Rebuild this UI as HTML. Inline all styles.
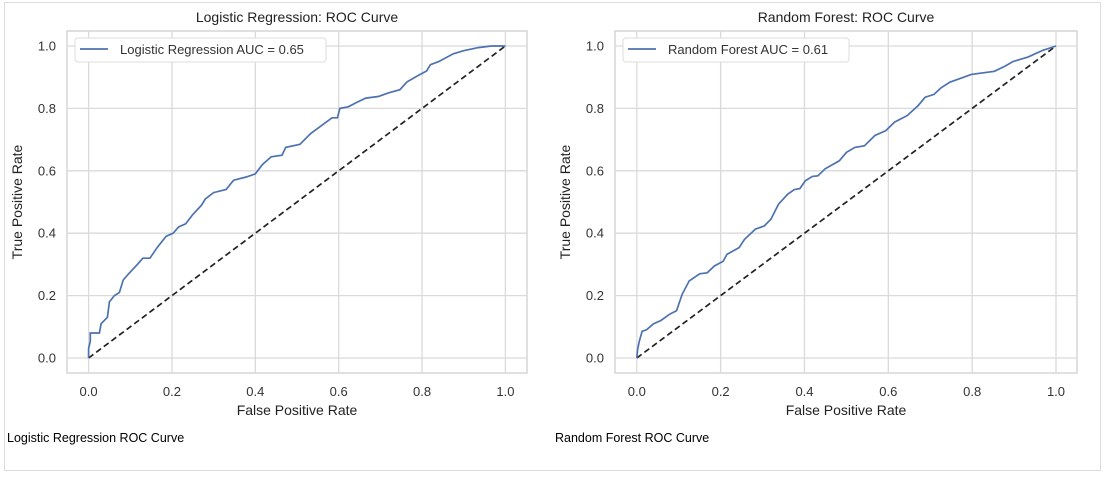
<!DOCTYPE html>
<html><head><meta charset="utf-8">
<style>
body{margin:0;background:#fff;width:1107px;height:473px;overflow:hidden;font-family:"Liberation Sans",Arial,sans-serif}
svg text{font-family:"Liberation Sans",Arial,sans-serif}
</style></head>
<body>
<svg id="fig" width="1107" height="473" xmlns="http://www.w3.org/2000/svg">
<rect x="4.5" y="2.5" width="1096" height="468" fill="none" stroke="#dcdcdc"/>
<text x="7" y="442" font-size="12.5" fill="#000">Logistic Regression ROC Curve</text>
<text x="555" y="442" font-size="12.5" fill="#000">Random Forest ROC Curve</text>
</svg>
<script>
const ticks=[0,0.2,0.4,0.6,0.8,1.0];
const tickLabels=["0.0","0.2","0.4","0.6","0.8","1.0"];
const lrFpr=[0,0,0.004,0.004,0.026,0.03,0.045,0.05,0.062,0.074,0.083,0.096,0.117,0.13,0.147,0.165,0.186,0.203,0.216,0.233,0.25,0.271,0.28,0.3,0.33,0.348,0.378,0.4,0.417,0.438,0.464,0.473,0.507,0.533,0.554,0.584,0.597,0.603,0.623,0.644,0.665,0.695,0.72,0.747,0.764,0.79,0.811,0.82,0.84,0.875,0.9,0.935,0.966,1];
const lrTpr=[0,0.03,0.054,0.08,0.08,0.11,0.13,0.18,0.2,0.21,0.25,0.27,0.3,0.32,0.32,0.355,0.39,0.40,0.42,0.43,0.46,0.49,0.51,0.53,0.54,0.57,0.58,0.59,0.62,0.645,0.65,0.675,0.685,0.72,0.74,0.77,0.77,0.80,0.805,0.82,0.833,0.838,0.85,0.86,0.885,0.905,0.92,0.94,0.95,0.975,0.985,0.995,1,1];
const rfFpr=[0,0.002,0.006,0.013,0.023,0.04,0.057,0.078,0.095,0.108,0.125,0.15,0.168,0.185,0.206,0.215,0.244,0.257,0.283,0.304,0.32,0.338,0.36,0.376,0.389,0.402,0.419,0.432,0.449,0.483,0.5,0.52,0.543,0.568,0.594,0.615,0.645,0.671,0.688,0.709,0.726,0.747,0.798,0.853,0.879,0.897,0.934,0.968,1];
const rfTpr=[0,0.027,0.054,0.086,0.09,0.11,0.12,0.14,0.152,0.204,0.247,0.27,0.273,0.295,0.31,0.332,0.354,0.38,0.413,0.423,0.445,0.493,0.525,0.54,0.543,0.568,0.582,0.584,0.606,0.632,0.659,0.675,0.68,0.713,0.729,0.756,0.777,0.809,0.836,0.845,0.866,0.884,0.909,0.919,0.936,0.95,0.965,0.986,1];
const NS="http://www.w3.org/2000/svg";
const svg=document.getElementById('fig');
function mk(tag,attrs,parent){const e=document.createElementNS(NS,tag);for(const k in attrs)e.setAttribute(k,attrs[k]);(parent||svg).appendChild(e);return e;}
function panel(p){
  const g=mk('g',{});
  
  
  const sx=v=>p.x0+v*(p.x1-p.x0), sy=v=>p.y0+v*(p.y1-p.y0);
  mk('rect',{x:p.bx0,y:31,width:p.bx1-p.bx0,height:342,fill:'#fff',stroke:'#d0d0d0','stroke-width':1.3},g);
  ticks.forEach((t,i)=>{
    const gx=mk('line',{x1:sx(t),x2:sx(t),y1:31,y2:373,stroke:'#dadada','stroke-width':1.3},g);
    
    const gy=mk('line',{x1:p.bx0,x2:p.bx1,y1:sy(t),y2:sy(t),stroke:'#dadada','stroke-width':1.3},g);
    
    const tx=mk('text',{x:sx(t),y:396,'font-size':13,fill:'#333','text-anchor':'middle'},g);tx.textContent=tickLabels[i];
    
    const ty=mk('text',{x:p.bx0-11,y:sy(t)+4.5,'font-size':13,fill:'#333','text-anchor':'end'},g);ty.textContent=tickLabels[i];
    
  });
  const d=mk('line',{x1:sx(0),y1:sy(0),x2:sx(1),y2:sy(1),stroke:'#222','stroke-width':1.7,'stroke-dasharray':'6,3.5'},g);
  
  const pts=p.fx.map((v,i)=>sx(v).toFixed(1)+','+sy(p.fy[i]).toFixed(1)).join(' ');
  const c=mk('polyline',{points:pts,fill:'none',stroke:'#4c72b0','stroke-width':1.7},g);
  
  const cx=(p.bx0+p.bx1)/2;
  const ti=mk('text',{x:cx,y:22,'font-size':14,fill:'#222','text-anchor':'middle'},g);ti.textContent=p.title;
  
  const xl=mk('text',{x:cx,y:415,'font-size':14,fill:'#222','text-anchor':'middle'},g);xl.textContent='False Positive Rate';
  
  const yx=p.bx0-45,yy=202;
  const yl=mk('text',{x:yx,y:yy,'font-size':14,fill:'#222','text-anchor':'middle',transform:`rotate(-90 ${yx} ${yy})`},g);yl.textContent='True Positive Rate';
  
  const lg=mk('g',{},g);
  
  mk('rect',{x:p.bx0+8,y:38,width:p.lw,height:24,rx:3,fill:'#fff',stroke:'#dcdcdc'},lg);
  mk('line',{x1:p.bx0+13,x2:p.bx0+41,y1:49,y2:49,stroke:'#4c72b0','stroke-width':1.7},lg);
  const lt=mk('text',{x:p.bx0+53,y:54,'font-size':13,fill:'#333'},lg);lt.textContent=p.label;
}
panel({name:'logistic-regression',bx0:67,bx1:527,x0:88.6,x1:505.4,y0:358,y1:46,fx:lrFpr,fy:lrTpr,title:'Logistic Regression: ROC Curve',label:'Logistic Regression AUC = 0.65',lw:251});
panel({name:'random-forest',bx0:615,bx1:1077,x0:636.8,x1:1056,y0:358,y1:46,fx:rfFpr,fy:rfTpr,title:'Random Forest: ROC Curve',label:'Random Forest AUC = 0.61',lw:226});
</script>
</body></html>
